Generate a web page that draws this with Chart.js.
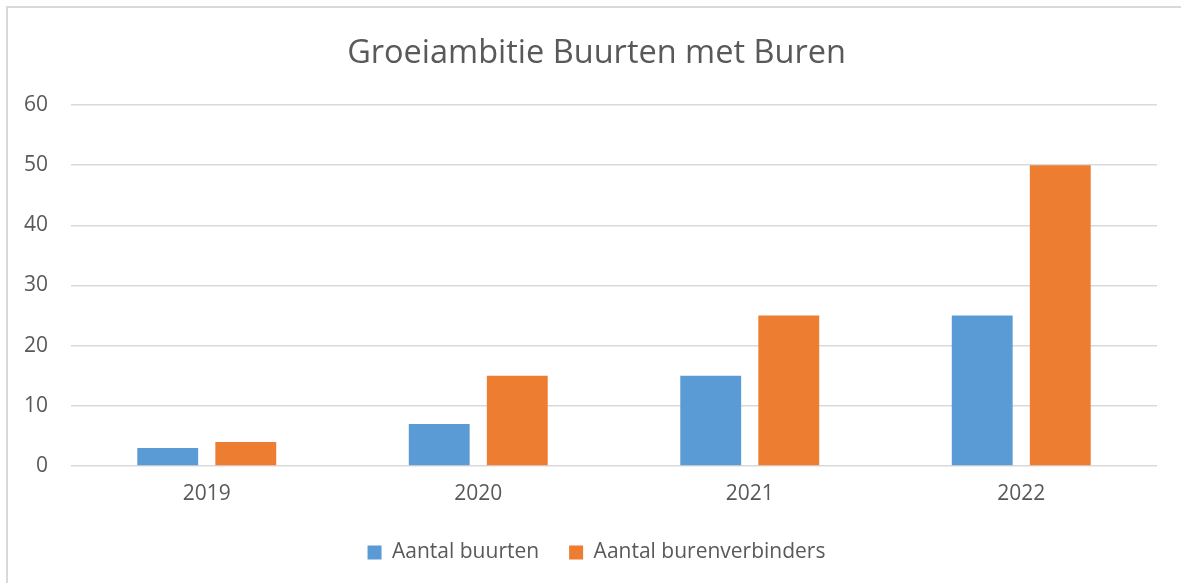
<!DOCTYPE html>
<html>
<head>
<meta charset="utf-8">
<script src="https://cdn.jsdelivr.net/npm/chart.js@4/dist/chart.umd.min.js"></script>
<style>
  html, body { margin: 0; padding: 0; background: #fff; }
  #wrap { position: relative; width: 1181px; height: 583px; overflow: hidden; }
  #frame { position: absolute; left: 6px; top: 6px; width: 1200px; height: 600px;
           border-left: 2px solid #d9d9d9; border-top: 2px solid #d9d9d9; box-sizing: border-box; }
  canvas { position: absolute; left: 0; top: 0; }
</style>
</head>
<body>
<div id="wrap">
  <div id="frame"></div>
  <canvas id="myChart" width="1181" height="583"></canvas>
</div>
<script>
const years = ['2019', '2020', '2021', '2022'];
const buurten = [3, 7, 15, 25];
const burenverbinders = [4, 15, 25, 50];
const yTicks = [0, 10, 20, 30, 40, 50, 60];

const textColor = '#595959';
const fontFamily = '"Open Sans", "Noto Sans", sans-serif';

const data = {
  labels: years,
  datasets: [{
    label: 'Aantal buurten',
    data: buurten,
    backgroundColor: '#5b9bd5',
    barPercentage: 0.78,
    categoryPercentage: 0.575
  },
  {
    label: 'Aantal burenverbinders',
    data: burenverbinders,
    backgroundColor: '#ed7d31',
    barPercentage: 0.78,
    categoryPercentage: 0.575
  }]
};

const config = {
  type: 'bar',
  data: data,
  options: {
    responsive: false,
    animation: false,
    layout: { padding: { left: 20, right: 8, top: 0, bottom: 10 } },
    plugins: {
      title: {
        display: true,
        text: 'Groeiambitie Buurten met Buren',
        color: textColor,
        font: { family: fontFamily, size: 32.5, weight: 'normal' },
        padding: { top: 34, bottom: 32 }
      },
      legend: {
        position: 'bottom',
        labels: {
          color: textColor,
          font: { family: fontFamily, size: 21 },
          boxWidth: 14,
          boxHeight: 14,
          padding: 30
        }
      },
      tooltip: { enabled: false }
    },
    scales: {
      x: {
        grid: { display: false, drawTicks: false },
        border: { display: false },
        ticks: { color: textColor, font: { family: fontFamily, size: 21 }, padding: 15 },
        afterFit: scale => { scale.height = 46; }
      },
      y: {
        min: 0,
        max: 60,
        afterBuildTicks: scale => { scale.ticks = yTicks.map(v => ({ value: v })); },
        grid: { color: '#d9d9d9', lineWidth: 1.5, drawTicks: false },
        border: { display: false },
        ticks: { color: textColor, font: { family: fontFamily, size: 21 }, padding: 23 },
        afterFit: scale => { scale.width = 51; }
      },
      // empty strip on the right so the title and legend centre like the original
      spacer: {
        type: 'linear',
        position: 'right',
        grid: { display: false, drawTicks: false },
        border: { display: false },
        ticks: { display: false },
        afterFit: scale => { scale.width = 16; }
      }
    }
  }
};

const myChart = new Chart(
  document.getElementById('myChart'),
  config
);
</script>
</body>
</html>
